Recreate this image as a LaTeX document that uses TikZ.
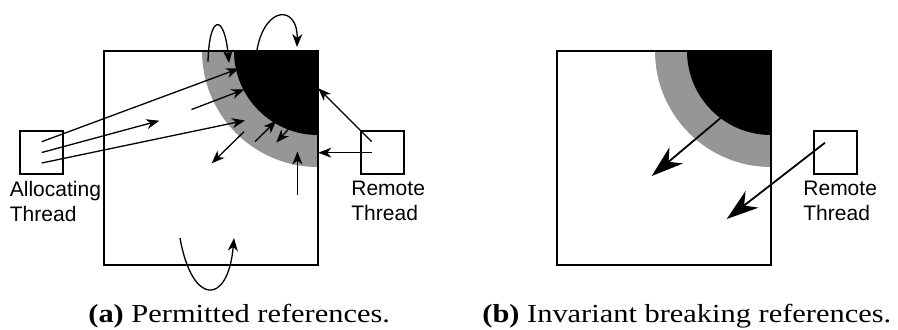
\documentclass[tikz,border=0pt]{standalone}
\usepackage{fontspec}
\setmainfont{Liberation Sans}
\newfontfamily\capfont[FakeStretch=1.17]{Liberation Serif}
\usetikzlibrary{arrows.meta}
\definecolor{ringgray}{RGB}{150,150,150}

\begin{document}
\begin{tikzpicture}[x=0.5pt,y=-0.5pt,
  heap/.style={draw, line width=1.1pt, minimum size=107pt, inner sep=0pt},
  thread/.style={draw, line width=1.1pt, minimum size=21.5pt, inner sep=0pt},
  lbl/.style={anchor=north west, inner sep=0pt, align=left,
              font=\fontsize{10.5}{12.5}\selectfont},
  caption/.style={anchor=base west, inner sep=0pt,
                  font=\capfont\fontsize{13}{15}\selectfont},
  ref/.style={line width=0.65pt, -{Stealth[length=6.5pt,width=5pt,inset=2pt]}},
  badref/.style={line width=0.9pt, -{Stealth[length=16pt,width=10.5pt,inset=5pt]}}]
\useasboundingbox (0,0) rectangle (898,329);

% ---------- (a) permitted references ----------
\coordinate (cA) at (318,51);
\begin{scope}
  \clip (104,51) rectangle (318,265);
  \fill[ringgray] (cA) circle (116);
  \fill[black] (cA) circle (84);
\end{scope}
\node[heap] (heapA) at (211,158) {};
\node[thread] (alloc) at (41.5,152.5) {};
\node[thread] (remA) at (382.5,152.5) {};
\node[lbl] (allocLbl) at (9.5,181) {Allocating\\Thread};
\node[lbl] (remALbl) at (351,181) {Remote\\Thread};

% sources inside the thread boxes
\coordinate (s1) at (41.7,141.7);
\coordinate (s2) at (41.7,152.5);
\coordinate (s3) at (41.7,163);
\coordinate (r1) at (371.7,141.7);
\coordinate (r2) at (371.7,152.7);
% targets inside the heap
\coordinate (t1) at (239,68.5);
\coordinate (t2) at (159.3,120.7);
\coordinate (t3) at (245,120.5);
\coordinate (u4) at (191.5,109.5);
\coordinate (t4) at (244.5,89.3);
\coordinate (u5) at (255,141.7);
\coordinate (t5) at (276.3,120.7);
\coordinate (u6) at (289.5,128);
\coordinate (t6) at (276.3,142.5);
\coordinate (u7) at (244,131.7);
\coordinate (t7) at (211.7,163.3);
\coordinate (u8) at (297.4,195);
\coordinate (t8) at (297.4,151.5);
\coordinate (t9) at (318.3,88.3);
\coordinate (t10) at (318.3,152.7);

\draw[ref] (s1) -- (t1);
\draw[ref] (s2) -- (t2);
\draw[ref] (s3) -- (t3);
\draw[ref] (u4) -- (t4);
\draw[ref] (u5) -- (t5);
\draw[ref] (u6) -- (t6);
\draw[ref] (u7) -- (t7);
\draw[ref] (u8) -- (t8);
\draw[ref] (r1) -- (t9);
\draw[ref] (r2) -- (t10);

% looping references
\coordinate (l1a) at (208,62);
\coordinate (l1b) at (229,63);
\coordinate (l2a) at (257,50);
\coordinate (l2b) at (297,47);
\coordinate (l3a) at (180,238);
\coordinate (l3b) at (234,238);
\draw[ref] (l1a) .. controls (209,15) and (224,12) .. (l1b);
\draw[ref] (l2a) .. controls (265,5) and (298,5) .. (l2b);
\draw[ref] (l3a) .. controls (192,306) and (228,306) .. (l3b);

\node[caption] (capA) at (88,322) {{\bfseries (a)} Permitted references.};

% ---------- (b) invariant breaking references ----------
\coordinate (cB) at (771,51);
\begin{scope}
  \clip (557,51) rectangle (771,265);
  \fill[ringgray] (cB) circle (116);
  \fill[black] (cB) circle (84);
\end{scope}
\node[heap] (heapB) at (664,158) {};
\node[thread] (remB) at (835.5,152.5) {};
\node[lbl] (remBLbl) at (803,181) {Remote\\Thread};

\coordinate (b1s) at (723.3,115.7);
\coordinate (b1t) at (651.7,176);
\coordinate (b2s) at (825,142.7);
\coordinate (b2t) at (726.7,219);
\draw[badref] (b1s) -- (b1t);
\draw[badref] (b2s) -- (b2t);

\node[caption] (capB) at (482,322) {{\bfseries (b)} Invariant breaking references.};
\end{tikzpicture}
\end{document}
